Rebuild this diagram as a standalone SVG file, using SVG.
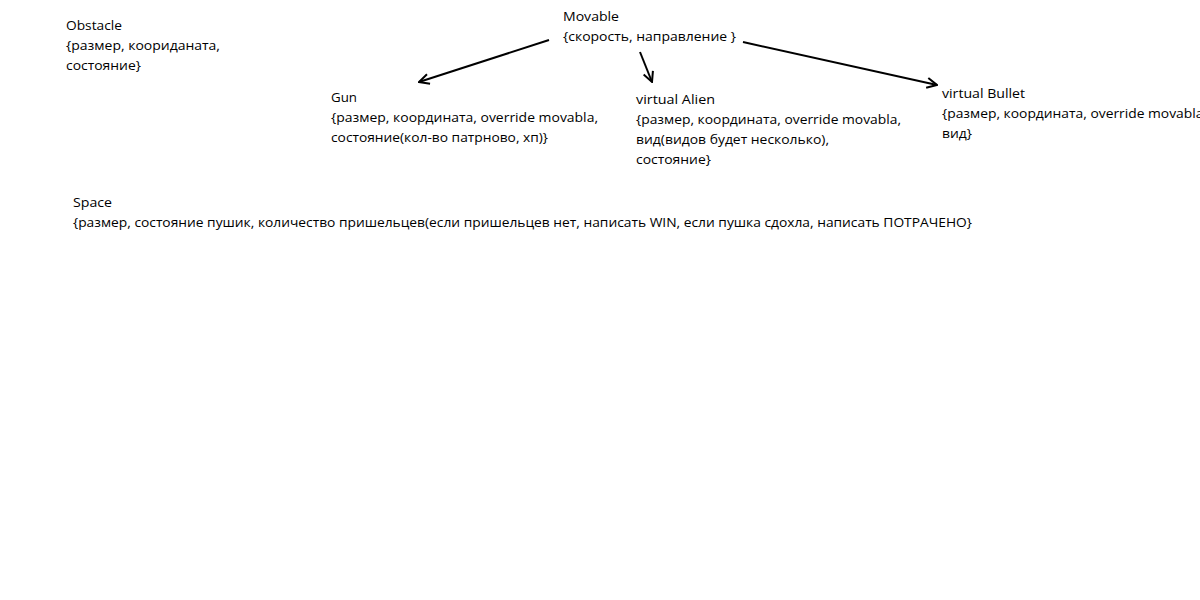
<svg xmlns="http://www.w3.org/2000/svg" width="1200" height="600" viewBox="0 0 1200 600">
<defs>
<style>
text{font-family:"Open Sans","Noto Sans","Liberation Sans",sans-serif;font-size:13.5px;fill:#000}
.c{stroke:#000;stroke-width:2;fill:none}
</style>
<marker id="ah" viewBox="0 0 12 12" refX="11" refY="6" markerWidth="12" markerHeight="12" markerUnits="userSpaceOnUse" orient="auto">
<path d="M1,1 L11,6 L1,11" fill="none" stroke="#000" stroke-width="2"/>
</marker>
</defs>
<rect width="1200" height="600" fill="#fff"/>
<g id="obstacle">
<text x="66" y="30" textLength="56" lengthAdjust="spacingAndGlyphs">Obstacle</text>
<text x="66" y="50" textLength="154" lengthAdjust="spacingAndGlyphs">{размер, коориданата,</text>
<text x="66" y="70" textLength="75" lengthAdjust="spacingAndGlyphs">состояние}</text>
</g>
<g id="movable">
<text x="563" y="21" textLength="56" lengthAdjust="spacingAndGlyphs">Movable</text>
<text x="563" y="41" textLength="173" lengthAdjust="spacingAndGlyphs">{скорость, направление }</text>
</g>
<g id="gun">
<text x="331" y="102" textLength="26" lengthAdjust="spacingAndGlyphs">Gun</text>
<text x="331" y="122" textLength="267" lengthAdjust="spacingAndGlyphs">{размер, координата, override movabla,</text>
<text x="331" y="142" textLength="217" lengthAdjust="spacingAndGlyphs">состояние(кол-во патрново, хп)}</text>
</g>
<g id="alien">
<text x="636" y="104" textLength="79" lengthAdjust="spacingAndGlyphs">virtual Alien</text>
<text x="636" y="124" textLength="265" lengthAdjust="spacingAndGlyphs">{размер, координата, override movabla,</text>
<text x="636" y="144" textLength="193" lengthAdjust="spacingAndGlyphs">вид(видов будет несколько),</text>
<text x="636" y="164" textLength="75" lengthAdjust="spacingAndGlyphs">состояние}</text>
</g>
<g id="bullet">
<text x="942" y="98" textLength="83" lengthAdjust="spacingAndGlyphs">virtual Bullet</text>
<text x="942" y="118" textLength="265" lengthAdjust="spacingAndGlyphs">{размер, координата, override movabla,</text>
<text x="942" y="138" textLength="30" lengthAdjust="spacingAndGlyphs">вид}</text>
</g>
<g id="space">
<text x="73" y="207" textLength="39" lengthAdjust="spacingAndGlyphs">Space</text>
<text x="73" y="227" textLength="899" lengthAdjust="spacingAndGlyphs">{размер, состояние пушик, количество пришельцев(если пришельцев нет, написать WIN, если пушка сдохла, написать ПОТРАЧЕНО}</text>
</g>
<g id="connectors">
<line class="c" x1="549" y1="40" x2="419" y2="82" marker-end="url(#ah)"/>
<line class="c" x1="640" y1="52" x2="652" y2="82" marker-end="url(#ah)"/>
<line class="c" x1="743" y1="42" x2="937" y2="85" marker-end="url(#ah)"/>
</g>
</svg>
